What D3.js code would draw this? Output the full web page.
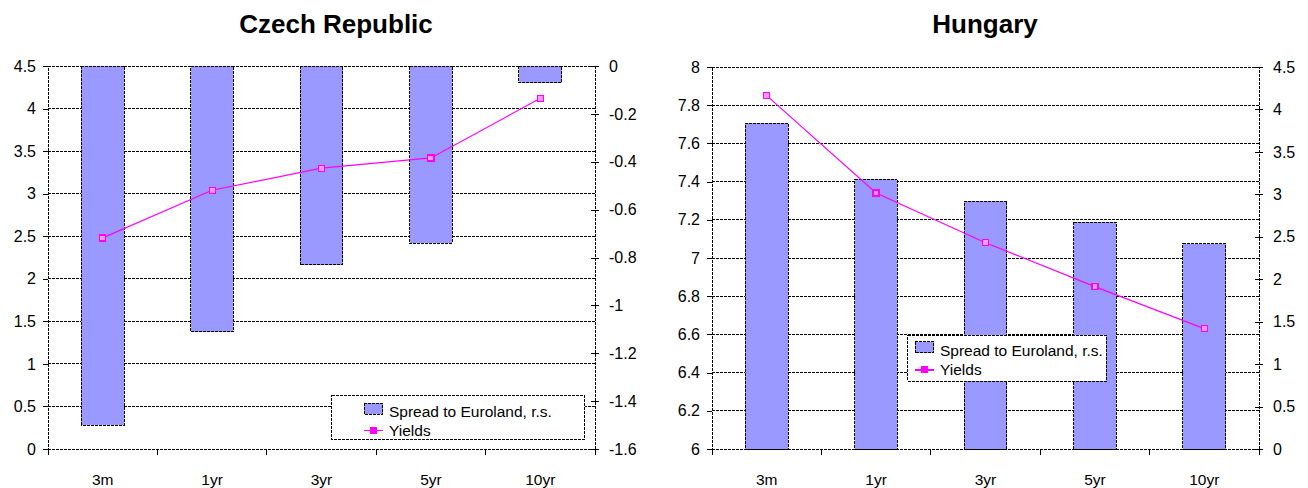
<!DOCTYPE html>
<html>
<head>
<meta charset="utf-8">
<script src="https://cdn.jsdelivr.net/npm/d3@7/dist/d3.min.js"></script>
<style>
  html, body { margin: 0; padding: 0; background: #fff; }
  svg { display: block; font-family: "Liberation Sans", Arial, sans-serif; }
  .crisp line, .crisp rect, .crisp path.domain { shape-rendering: crispEdges; }
</style>
</head>
<body>
<svg id="chart" width="1308" height="488"></svg>
<script>
// Maturities shared by both panels
const categories = ["3m", "1yr", "3yr", "5yr", "10yr"];

// Czech Republic: yields (left scale) and spread to Euroland (right scale)
const czechYields = [2.48, 3.04, 3.30, 3.42, 4.12];
const czechSpread = [-1.50, -1.11, -0.83, -0.74, -0.07];
const czechLeftTicks = [0, 0.5, 1, 1.5, 2, 2.5, 3, 3.5, 4, 4.5];
const czechRightTicks = [0, -0.2, -0.4, -0.6, -0.8, -1, -1.2, -1.4, -1.6];

// Hungary: yields (left scale) and spread to Euroland (right scale)
const hungaryYields = [7.85, 7.34, 7.08, 6.85, 6.63];
const hungarySpread = [3.84, 3.18, 2.92, 2.67, 2.42];
const hungaryLeftTicks = [6, 6.2, 6.4, 6.6, 6.8, 7, 7.2, 7.4, 7.6, 7.8, 8];
const hungaryRightTicks = [0, 0.5, 1, 1.5, 2, 2.5, 3, 3.5, 4, 4.5];

const legendLabels = ["Spread to Euroland, r.s.", "Yields"];

const BAR_FILL = "#9999ff";
const LINE_COLOR = "#ff00ff";
const DOT = "3,1";

const svg = d3.select("#chart");
const fmt = d => String(+(+d).toFixed(1));

function drawPanel(opt) {
  const g = svg.append("g").attr("class", "crisp");
  const { left, right, top, bottom } = opt.box;

  const x = d3.scaleBand().domain(categories).range([left, right]).padding(0);
  const yL = d3.scaleLinear().domain(opt.leftDomain).range([bottom, top]);
  const yR = d3.scaleLinear().domain(opt.rightDomain).range(opt.rightRange);

  // title
  g.append("text")
    .attr("x", opt.titleX).attr("y", 33)
    .attr("text-anchor", "middle")
    .attr("font-weight", "bold").attr("font-size", 26)
    .text(opt.title);

  // horizontal gridlines on the left-scale ticks
  g.append("g").selectAll("line").data(opt.leftTicks).join("line")
    .attr("x1", left).attr("x2", right)
    .attr("y1", d => yL(d)).attr("y2", d => yL(d))
    .attr("stroke", "#000").attr("stroke-dasharray", DOT);

  // bars (spread, right scale)
  const barW = x.bandwidth() * 0.39;
  g.append("g").selectAll("rect").data(opt.spread).join("rect")
    .attr("x", (d, i) => x(categories[i]) + (x.bandwidth() - barW) / 2)
    .attr("y", d => Math.min(yR(d), yR(0)))
    .attr("width", barW)
    .attr("height", d => Math.abs(yR(d) - yR(0)))
    .attr("fill", BAR_FILL)
    .attr("stroke", "#000").attr("stroke-dasharray", DOT);

  // left axis
  const axL = g.append("g").attr("transform", `translate(${left},0)`)
    .call(d3.axisLeft(yL).tickValues(opt.leftTicks).tickFormat(fmt).tickSize(5).tickPadding(7));
  // right axis
  const axR = g.append("g").attr("transform", `translate(${right},0)`)
    .call(d3.axisRight(yR).tickValues(opt.rightTicks).tickFormat(fmt).tickSize(4).tickPadding(10));
  // right-axis ticks cross the axis line
  axR.selectAll(".tick line").attr("x1", -4);
  // bottom axis: ticks between categories
  const bounds = d3.range(categories.length + 1).map(i => left + i * x.step());
  g.append("g").selectAll("line").data(bounds).join("line")
    .attr("x1", d => d).attr("x2", d => d)
    .attr("y1", bottom).attr("y2", bottom + 6)
    .attr("stroke", "#000");
  g.append("line")
    .attr("x1", left).attr("x2", right).attr("y1", bottom).attr("y2", bottom)
    .attr("stroke", "#000").attr("stroke-dasharray", DOT);
  g.append("g").selectAll("text").data(categories).join("text")
    .attr("x", d => x(d) + x.bandwidth() / 2)
    .attr("y", 485)
    .attr("text-anchor", "middle").attr("font-size", 15.5)
    .text(d => d);

  [axL, axR].forEach(a => {
    a.select(".domain").attr("stroke", "#000").attr("stroke-dasharray", DOT);
    a.selectAll(".tick line").attr("stroke", "#000");
    a.selectAll(".tick text").attr("font-size", 16).attr("fill", "#000")
      .attr("font-family", "Liberation Sans, Arial, sans-serif");
  });

  // yields line (left scale)
  const pts = opt.yields.map((v, i) => [x(categories[i]) + x.bandwidth() / 2, yL(v)]);
  g.append("path").datum(pts)
    .attr("d", d3.line())
    .attr("fill", "none").attr("stroke", LINE_COLOR).attr("stroke-width", 1.2);
  g.append("g").selectAll("rect").data(pts).join("rect")
    .attr("x", d => d[0] - 3).attr("y", d => d[1] - 3)
    .attr("width", 6).attr("height", 6)
    .attr("fill", "#ff99ff").attr("stroke", LINE_COLOR).attr("stroke-width", 1.2);

  // legend
  const L = opt.legend;
  const lg = g.append("g");
  lg.append("rect")
    .attr("x", L.x).attr("y", L.y).attr("width", L.w).attr("height", L.h)
    .attr("fill", "#fff").attr("stroke", "#000").attr("stroke-dasharray", DOT);
  lg.append("rect")
    .attr("x", L.sx).attr("y", L.row1 - 14).attr("width", 18.5).attr("height", 11)
    .attr("fill", BAR_FILL).attr("stroke", "#000").attr("stroke-dasharray", DOT);
  lg.append("line")
    .attr("x1", L.sx).attr("x2", L.sx + 19).attr("y1", L.row2 - 5).attr("y2", L.row2 - 5)
    .attr("stroke", LINE_COLOR).attr("stroke-width", 1.2);
  lg.append("rect")
    .attr("x", L.sx + 6.5).attr("y", L.row2 - 8.5).attr("width", 6).attr("height", 6)
    .attr("fill", LINE_COLOR).attr("stroke", LINE_COLOR);
  lg.selectAll("text").data(legendLabels).join("text")
    .attr("x", L.sx + 25)
    .attr("y", (d, i) => i === 0 ? L.row1 : L.row2)
    .attr("font-size", 15.5)
    .text(d => d);
}

drawPanel({
  title: "Czech Republic", titleX: 336,
  box: { left: 48, right: 595, top: 66, bottom: 449 },
  leftDomain: [0, 4.5], leftTicks: czechLeftTicks,
  rightDomain: [-1.6, 0], rightRange: [449, 66], rightTicks: czechRightTicks,
  yields: czechYields, spread: czechSpread,
  legend: { x: 331.5, y: 395.5, w: 253, h: 43.5, sx: 364, row1: 417, row2: 435.5 }
});

drawPanel({
  title: "Hungary", titleX: 985,
  box: { left: 712, right: 1259, top: 67, bottom: 449 },
  leftDomain: [6, 8], leftTicks: hungaryLeftTicks,
  rightDomain: [0, 4.5], rightRange: [449, 67], rightTicks: hungaryRightTicks,
  yields: hungaryYields, spread: hungarySpread,
  legend: { x: 907.5, y: 335, w: 198.5, h: 46, sx: 915, row1: 355.5, row2: 375 }
});
</script>
</body>
</html>
